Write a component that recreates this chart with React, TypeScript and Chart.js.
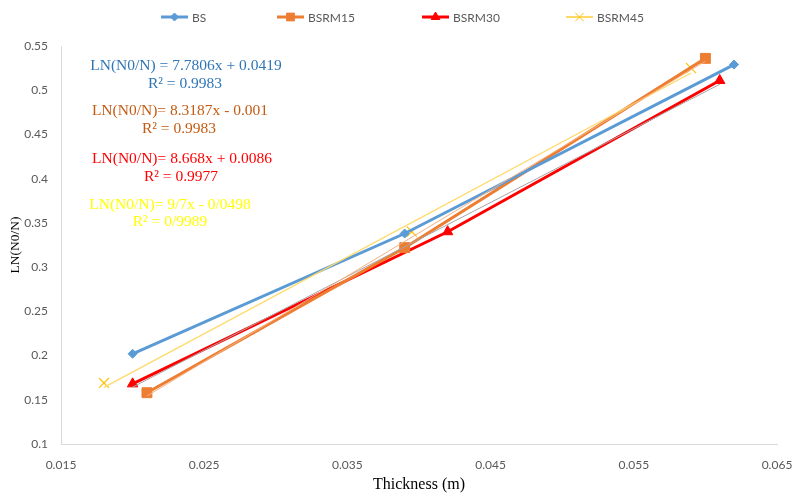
import React, { useEffect, useRef } from "react";
import { Chart, registerables } from "chart.js";
import { drawPoint } from "chart.js/helpers";

Chart.register(...registerables);

// ---- data ----
const bsX = [0.020, 0.039, 0.062];
const bsY = [0.202, 0.338, 0.529];
const m15X = [0.021, 0.039, 0.060];
const m15Y = [0.158, 0.322, 0.536];
const m30X = [0.020, 0.042, 0.061];
const m30Y = [0.168, 0.340, 0.511];
const m45X = [0.018, 0.0395, 0.059];
const m45Y = [0.169, 0.340, 0.525];

const seriesNames = ["BS", "BSRM15", "BSRM30", "BSRM45"];
const xTicks = [0.015, 0.025, 0.035, 0.045, 0.055, 0.065];
const yTicks = [0.1, 0.15, 0.2, 0.25, 0.3, 0.35, 0.4, 0.45, 0.5, 0.55];

const eqLines = [
  "LN(N0/N) = 7.7806x + 0.0419",
  "R² = 0.9983",
  "LN(N0/N)= 8.3187x - 0.001",
  "R² = 0.9983",
  "LN(N0/N)= 8.668x + 0.0086",
  "R² = 0.9977",
  "LN(N0/N)= 9/7x - 0/0498",
  "R² = 0/9989",
];

// ---- styles ----
const colors = ["#5B9BD5", "#ED7D31", "#FF0000", "#FFC000"];
const trendColors = [null, "#F4B183", "#A6A6A6", "#FFD966"];
const eqColors = ["#2E75B6", "#C55A11", "#FF0000", "#FFFF00"];
const pointStyles = ["rectRot", "rect", "triangle", "crossRot"];
const pointRadii = [4.5, 7, 6, 7];
const lineWidths = [3, 3, 3, 1.2];
const showLines = [true, true, true, false];

function pts(xs: number[], ys: number[]) {
  return xs.map((x, i) => ({ x, y: ys[i] }));
}

// least-squares trend line over the data's x range (Excel linear trendline)
function trend(xs: number[], ys: number[]) {
  const n = xs.length;
  const mx = xs.reduce((a, b) => a + b, 0) / n;
  const my = ys.reduce((a, b) => a + b, 0) / n;
  let sxy = 0, sxx = 0;
  for (let i = 0; i < n; i++) {
    sxy += (xs[i] - mx) * (ys[i] - my);
    sxx += (xs[i] - mx) * (xs[i] - mx);
  }
  const b = sxy / sxx;
  const a = my - b * mx;
  const x0 = Math.min(...xs), x1 = Math.max(...xs);
  return [{ x: x0, y: a + b * x0 }, { x: x1, y: a + b * x1 }];
}

const legendX = [161, 277, 422, 566];
const legendMarkR = [4, 5.5, 5, 6];
const eqPos = [
  [186, 66], [185, 84],
  [180, 111], [179, 129],
  [182, 159], [181, 177],
  [170, 205], [170, 222],
];

const overlayPlugin = {
  id: "overlay",
  afterDraw(chart: any) {
    const ctx = chart.ctx;
    ctx.save();
    // legend
    ctx.font = "12px Lato, 'Open Sans', sans-serif";
    ctx.textBaseline = "middle";
    ctx.textAlign = "left";
    const ly = 17;
    seriesNames.forEach((name, i) => {
      const x = legendX[i];
      ctx.strokeStyle = colors[i];
      ctx.lineWidth = lineWidths[i];
      ctx.beginPath();
      ctx.moveTo(x, ly);
      ctx.lineTo(x + 27, ly);
      ctx.stroke();
      ctx.fillStyle = colors[i];
      ctx.strokeStyle = colors[i];
      ctx.lineWidth = 1;
      drawPoint(ctx, { pointStyle: pointStyles[i], radius: legendMarkR[i], borderWidth: 1, rotation: 0 } as any, x + 13.5, ly);
      ctx.fillStyle = "#595959";
      ctx.fillText(name, x + 31, ly + 1);
    });
    // equations
    ctx.font = "15.5px 'Liberation Serif', 'Times New Roman', serif";
    ctx.textAlign = "center";
    eqLines.forEach((t, i) => {
      ctx.fillStyle = eqColors[Math.floor(i / 2)];
      ctx.fillText(t, eqPos[i][0], eqPos[i][1]);
    });
    ctx.restore();
  },
};

export default function App() {
  const ref = useRef<HTMLCanvasElement>(null);
  useEffect(() => {
    if (!ref.current) return;
    const xsArr = [bsX, m15X, m30X, m45X];
    const ysArr = [bsY, m15Y, m30Y, m45Y];
    const mainSets = seriesNames.map((name, i) => ({
      label: name,
      data: pts(xsArr[i], ysArr[i]),
      borderColor: colors[i],
      backgroundColor: colors[i],
      borderWidth: lineWidths[i],
      pointStyle: pointStyles[i],
      pointRadius: pointRadii[i],
      pointBorderWidth: i === 3 ? 1.2 : 1,
      pointBorderColor: colors[i],
      pointBackgroundColor: colors[i],
      showLine: showLines[i],
      order: 2,
    }));
    const trendSets: any[] = [];
    seriesNames.forEach((name, i) => {
      if (!trendColors[i]) return;
      trendSets.push({
        label: name + " trend",
        data: trend(xsArr[i], ysArr[i]),
        borderColor: trendColors[i],
        backgroundColor: trendColors[i],
        borderWidth: i === 3 ? 1.2 : 1,
        pointRadius: 0,
        showLine: true,
        order: 1,
      });
    });
    const chart = new Chart(ref.current, {
      type: "scatter",
      data: { datasets: [...mainSets, ...trendSets] as any },
      options: {
        animation: false,
        responsive: false,
        layout: { padding: { top: 46, right: 16, left: 0, bottom: 0 } },
        plugins: { legend: { display: false }, tooltip: { enabled: false } },
        scales: {
          x: {
            type: "linear",
            min: 0.015,
            max: 0.065,
            afterBuildTicks: (s: any) => { s.ticks = xTicks.map((v) => ({ value: v })); },
            afterFit: (s: any) => { s.height = 53; s.paddingLeft = 0; s.paddingRight = 0; },
            grid: { display: false },
            border: { display: true, color: "#D9D9D9", width: 1 },
            ticks: {
              padding: 6,
              color: "#595959",
              font: { family: "Lato, 'Open Sans', sans-serif", size: 12 },
              callback: (v: any) => String(v),
              maxRotation: 0,
            },
            title: {
              display: true,
              text: "Thickness (m)",
              color: "#000000",
              font: { family: "'Liberation Serif', 'Times New Roman', serif", size: 16 },
              padding: { top: 0, bottom: 3 },
            },
          },
          y: {
            type: "linear",
            min: 0.1,
            max: 0.55,
            afterBuildTicks: (s: any) => { s.ticks = yTicks.map((v) => ({ value: v })); },
            afterFit: (s: any) => { s.width = 61; s.paddingTop = 0; s.paddingBottom = 0; },
            grid: { display: false },
            border: { display: true, color: "#D9D9D9", width: 1 },
            ticks: {
              padding: 5,
              color: "#595959",
              font: { family: "Lato, 'Open Sans', sans-serif", size: 12 },
              callback: (v: any) => String(v),
            },
            title: {
              display: true,
              text: "LN(N0/N)",
              color: "#000000",
              font: { family: "'Liberation Serif', 'Times New Roman', serif", size: 13.5 },
              padding: { top: 7, bottom: 0 },
            },
          },
        },
      },
      plugins: [overlayPlugin],
    });
    return () => chart.destroy();
  }, []);
  return (
    <div style={{ position: "fixed", left: 0, top: 0, width: 793, height: 497, background: "#fff" }}>
      <canvas ref={ref} width={793} height={497} />
    </div>
  );
}
